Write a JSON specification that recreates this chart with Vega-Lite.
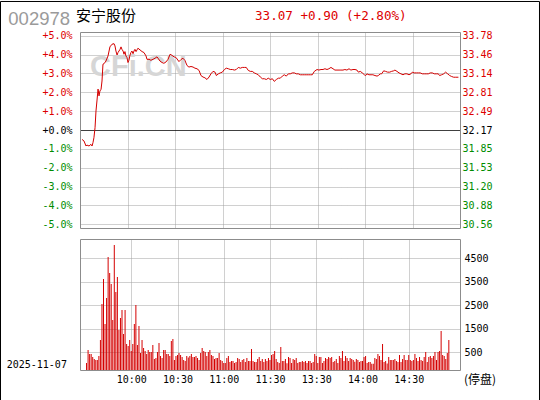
{
  "$schema": "https://vega.github.io/schema/vega-lite/v6.json",
  "autosize": {"type": "pad"},
  "padding": 0,
  "background": "#ffffff",
  "spacing": 11,
  "bounds": "flush",
  "config": {
    "view": {"stroke": null},
    "axis": {"labelFont": "DejaVu Sans Mono", "labelFontSize": 10, "labelColor": "#000000", "labelOverlap": false, "labelFlush": false, "ticks": false, "tickSize": 0, "domainColor": "#8c8c8c", "domainWidth": 1, "title": null}
  },
  "datasets": {
    "price": [
      {"m":1.3,"p":-0.50},{"m":2.5,"p":-0.58},{"m":3.8,"p":-0.85},{"m":4.4,"p":-0.80},{"m":5.7,"p":-0.85},{"m":6.9,"p":-0.76},{"m":7.6,"p":-0.85},{"m":8.2,"p":-0.67},{"m":8.8,"p":-0.41},{"m":9.5,"p":0.12},
      {"m":10.1,"p":1.01},{"m":10.7,"p":1.54},{"m":11.4,"p":2.17},{"m":12,"p":1.81},{"m":12.6,"p":2.07},{"m":13.3,"p":2.16},{"m":13.9,"p":2.6},{"m":14.5,"p":3.49},{"m":15.2,"p":3.52},{"m":16.4,"p":3.66},
      {"m":17.7,"p":3.93},{"m":18.9,"p":4.41},{"m":20.2,"p":4.55},{"m":21.5,"p":4.58},{"m":22.1,"p":4.46},{"m":22.7,"p":4.19},{"m":23.4,"p":3.98},{"m":24,"p":4.11},{"m":25.3,"p":4.28},{"m":25.9,"p":4.41},
      {"m":26.5,"p":4.28},{"m":27.2,"p":4.19},{"m":27.8,"p":4.02},{"m":28.4,"p":4.16},{"m":29,"p":3.93},{"m":29.7,"p":3.84},{"m":30.3,"p":3.58},{"m":30.9,"p":3.70},{"m":31.6,"p":3.98},{"m":32.2,"p":4.11},
      {"m":32.8,"p":4.19},{"m":33.5,"p":4.05},{"m":34.1,"p":4.19},{"m":34.7,"p":4.28},{"m":35.4,"p":4.16},{"m":36,"p":4.25},{"m":36.6,"p":4.34},{"m":37.9,"p":4.25},{"m":39.2,"p":4.16},{"m":40.4,"p":4.11},
      {"m":41.7,"p":3.93},{"m":42.3,"p":3.75},{"m":43.6,"p":3.75},{"m":44.8,"p":3.70},{"m":46.1,"p":3.75},{"m":47.4,"p":3.81},{"m":48.6,"p":3.88},{"m":49.3,"p":3.81},{"m":50.5,"p":3.66},{"m":51.8,"p":3.58},
      {"m":53,"p":3.54},{"m":54.3,"p":3.61},{"m":55.6,"p":3.75},{"m":56.9,"p":4.02},{"m":58.1,"p":3.96},{"m":59.4,"p":3.88},{"m":60.6,"p":3.85},{"m":62.5,"p":3.63},{"m":63.8,"p":3.74},{"m":65,"p":3.81},
      {"m":66.3,"p":3.69},{"m":66.9,"p":3.56},{"m":67.6,"p":3.42},{"m":68.8,"p":3.34},{"m":70.1,"p":3.37},{"m":71.4,"p":3.34},{"m":72.6,"p":3.28},{"m":73.9,"p":3.25},{"m":75.2,"p":3.16},{"m":76.4,"p":2.89},
      {"m":77.7,"p":2.81},{"m":78.9,"p":2.77},{"m":80.2,"p":2.68},{"m":81.5,"p":2.81},{"m":82.7,"p":2.98},{"m":84,"p":3.11},{"m":85.3,"p":3.07},{"m":86.1,"p":2.89},{"m":87.4,"p":2.98},{"m":88.6,"p":3.03},
      {"m":89.9,"p":3.07},{"m":91.2,"p":3.21},{"m":92.4,"p":3.28},{"m":93.7,"p":3.25},{"m":94.9,"p":3.21},{"m":96.2,"p":3.21},{"m":97.5,"p":3.18},{"m":98.7,"p":3.21},{"m":100,"p":3.32},{"m":101.3,"p":3.28},
      {"m":102.5,"p":3.32},{"m":103.8,"p":3.32},{"m":105,"p":3.32},{"m":106.3,"p":3.16},{"m":107.6,"p":3.11},{"m":108.8,"p":3.11},{"m":110.1,"p":3.03},{"m":111.4,"p":2.98},{"m":112.6,"p":2.93},{"m":113.9,"p":2.81},
      {"m":115.2,"p":2.72},{"m":116.4,"p":2.72},{"m":117.7,"p":2.68},{"m":118.9,"p":2.75},{"m":120.2,"p":2.68},{"m":121.5,"p":2.72},{"m":122.7,"p":2.58},{"m":124,"p":2.68},{"m":125.3,"p":2.75},{"m":126.5,"p":2.75},
      {"m":127.8,"p":2.86},{"m":129,"p":2.93},{"m":130.3,"p":2.86},{"m":131.6,"p":2.98},{"m":132.8,"p":2.98},{"m":134.1,"p":3.03},{"m":135.4,"p":3.03},{"m":136.6,"p":2.98},{"m":137.9,"p":2.98},{"m":139.2,"p":2.93},
      {"m":140.4,"p":2.93},{"m":141.7,"p":2.93},{"m":142.9,"p":2.93},{"m":144.2,"p":2.93},{"m":145.5,"p":2.93},{"m":146.7,"p":2.93},{"m":148,"p":3.11},{"m":149.7,"p":3.21},{"m":150.9,"p":3.18},{"m":152.2,"p":3.21},
      {"m":153.5,"p":3.21},{"m":154.7,"p":3.25},{"m":156,"p":3.21},{"m":157.2,"p":3.25},{"m":158.5,"p":3.32},{"m":159.8,"p":3.25},{"m":161,"p":3.18},{"m":162.3,"p":3.18},{"m":163.6,"p":3.18},{"m":164.8,"p":3.18},
      {"m":166.1,"p":3.18},{"m":167.3,"p":3.21},{"m":168.6,"p":3.18},{"m":169.9,"p":3.25},{"m":171.1,"p":3.18},{"m":172.4,"p":3.21},{"m":173.7,"p":3.21},{"m":174.9,"p":3.18},{"m":175.8,"p":3.07},{"m":177,"p":3.11},
      {"m":178.3,"p":3.03},{"m":179.6,"p":2.93},{"m":180.4,"p":2.89},{"m":181.2,"p":2.98},{"m":182.5,"p":2.93},{"m":183.8,"p":2.93},{"m":185,"p":2.93},{"m":186.3,"p":2.89},{"m":187.6,"p":2.86},{"m":188.4,"p":2.89},
      {"m":189.7,"p":2.98},{"m":190.5,"p":2.98},{"m":191.8,"p":3.14},{"m":193,"p":3.11},{"m":194.3,"p":3.07},{"m":195.6,"p":3.07},{"m":196.8,"p":3.11},{"m":198.1,"p":3.14},{"m":198.9,"p":3.18},{"m":200.2,"p":3.11},
      {"m":201.5,"p":3.03},{"m":202.7,"p":2.98},{"m":204,"p":2.93},{"m":205.2,"p":2.98},{"m":206.5,"p":2.98},{"m":207.8,"p":2.93},{"m":209,"p":2.98},{"m":209.9,"p":3.07},{"m":211.1,"p":3.03},{"m":212.4,"p":3.03},
      {"m":213.7,"p":3.03},{"m":214.9,"p":3.03},{"m":216.2,"p":2.98},{"m":217.5,"p":2.98},{"m":218.7,"p":2.98},{"m":220,"p":2.98},{"m":221.2,"p":3.03},{"m":222.5,"p":3.03},{"m":223.8,"p":2.98},{"m":225,"p":2.98},
      {"m":226.3,"p":2.98},{"m":227.1,"p":2.89},{"m":228.4,"p":2.93},{"m":229.7,"p":2.98},{"m":230.9,"p":3.07},{"m":232.2,"p":2.98},{"m":233.5,"p":2.89},{"m":234.7,"p":2.84},{"m":236,"p":2.80},{"m":237.3,"p":2.80},{"m":239,"p":2.80}
    ],
    "vol": [
      {"m":1,"v":50},{"m":2,"v":600},{"m":3,"v":430},{"m":4,"v":430},{"m":5,"v":300},{"m":6,"v":220},{"m":7,"v":170},{"m":8,"v":170},{"m":9,"v":340},{"m":10,"v":1025},
      {"m":11,"v":2556},{"m":12,"v":3620},{"m":13,"v":1705},{"m":14,"v":2810},{"m":15,"v":4555},{"m":16,"v":3875},{"m":17,"v":3407},{"m":18,"v":1875},{"m":19,"v":5066},{"m":20,"v":3067},
      {"m":21,"v":3705},{"m":22,"v":1450},{"m":23,"v":1960},{"m":24,"v":2300},{"m":25,"v":1280},{"m":26,"v":2300},{"m":27,"v":855},{"m":28,"v":770},{"m":29,"v":1025},{"m":30,"v":560},
      {"m":31,"v":855},{"m":32,"v":1705},{"m":33,"v":2510},{"m":34,"v":810},{"m":35,"v":1620},{"m":36,"v":470},{"m":37,"v":1025},{"m":38,"v":685},{"m":39,"v":560},{"m":40,"v":430},
      {"m":41,"v":600},{"m":42,"v":515},{"m":43,"v":515},{"m":44,"v":810},{"m":45,"v":220},{"m":46,"v":260},{"m":47,"v":515},{"m":48,"v":900},{"m":49,"v":345},{"m":50,"v":260},
      {"m":51,"v":600},{"m":52,"v":600},{"m":53,"v":430},{"m":54,"v":430},{"m":55,"v":345},{"m":56,"v":980},{"m":57,"v":1070},{"m":58,"v":175},{"m":59,"v":345},{"m":60,"v":385},
      {"m":61,"v":470},{"m":62,"v":385},{"m":63,"v":300},{"m":64,"v":175},{"m":65,"v":130},{"m":66,"v":345},{"m":67,"v":280},{"m":68,"v":345},{"m":69,"v":430},{"m":70,"v":300},
      {"m":71,"v":300},{"m":72,"v":345},{"m":73,"v":260},{"m":74,"v":175},{"m":75,"v":470},{"m":76,"v":685},{"m":77,"v":560},{"m":78,"v":515},{"m":79,"v":345},{"m":80,"v":515},
      {"m":81,"v":600},{"m":82,"v":390},{"m":83,"v":345},{"m":84,"v":215},{"m":85,"v":260},{"m":86,"v":260},{"m":87,"v":470},{"m":88,"v":175},{"m":89,"v":130},{"m":90,"v":45},
      {"m":91,"v":45},{"m":92,"v":260},{"m":93,"v":345},{"m":94,"v":90},{"m":95,"v":130},{"m":96,"v":130},{"m":97,"v":45},{"m":98,"v":90},{"m":99,"v":260},{"m":100,"v":215},
      {"m":101,"v":90},{"m":102,"v":175},{"m":103,"v":215},{"m":104,"v":90},{"m":105,"v":260},{"m":106,"v":130},{"m":107,"v":130},{"m":108,"v":640},{"m":109,"v":130},{"m":110,"v":90},
      {"m":111,"v":90},{"m":112,"v":215},{"m":113,"v":300},{"m":114,"v":130},{"m":115,"v":215},{"m":116,"v":90},{"m":117,"v":215},{"m":118,"v":130},{"m":119,"v":260},{"m":120,"v":175},
      {"m":121,"v":390},{"m":122,"v":430},{"m":123,"v":560},{"m":124,"v":215},{"m":125,"v":90},{"m":126,"v":45},{"m":127,"v":730},{"m":128,"v":130},{"m":129,"v":130},{"m":130,"v":215},
      {"m":131,"v":30},{"m":132,"v":300},{"m":133,"v":260},{"m":134,"v":45},{"m":135,"v":215},{"m":136,"v":175},{"m":137,"v":260},{"m":138,"v":45},{"m":139,"v":90},{"m":140,"v":90},
      {"m":141,"v":130},{"m":142,"v":90},{"m":143,"v":130},{"m":144,"v":45},{"m":145,"v":130},{"m":146,"v":130},{"m":147,"v":45},{"m":148,"v":90},{"m":149,"v":430},{"m":150,"v":345},
      {"m":151,"v":45},{"m":152,"v":300},{"m":153,"v":300},{"m":154,"v":45},{"m":155,"v":130},{"m":156,"v":260},{"m":157,"v":215},{"m":158,"v":300},{"m":159,"v":260},{"m":160,"v":300},
      {"m":161,"v":90},{"m":162,"v":130},{"m":163,"v":215},{"m":164,"v":45},{"m":165,"v":345},{"m":166,"v":260},{"m":167,"v":560},{"m":168,"v":130},{"m":169,"v":345},{"m":170,"v":260},
      {"m":171,"v":130},{"m":172,"v":260},{"m":173,"v":215},{"m":174,"v":175},{"m":175,"v":100},{"m":176,"v":215},{"m":177,"v":175},{"m":178,"v":90},{"m":179,"v":130},{"m":180,"v":130},
      {"m":181,"v":300},{"m":182,"v":345},{"m":183,"v":45},{"m":184,"v":90},{"m":185,"v":90},{"m":186,"v":10},{"m":187,"v":10},{"m":188,"v":260},{"m":189,"v":215},{"m":190,"v":430},
      {"m":191,"v":345},{"m":192,"v":175},{"m":193,"v":855},{"m":194,"v":90},{"m":195,"v":130},{"m":196,"v":20},{"m":197,"v":300},{"m":198,"v":175},{"m":199,"v":175},{"m":200,"v":175},
      {"m":201,"v":215},{"m":202,"v":130},{"m":203,"v":90},{"m":204,"v":390},{"m":205,"v":90},{"m":206,"v":215},{"m":207,"v":390},{"m":208,"v":175},{"m":209,"v":175},{"m":210,"v":390},
      {"m":211,"v":175},{"m":212,"v":130},{"m":213,"v":175},{"m":214,"v":430},{"m":215,"v":260},{"m":216,"v":130},{"m":217,"v":300},{"m":218,"v":175},{"m":219,"v":130},{"m":220,"v":300},
      {"m":221,"v":515},{"m":222,"v":90},{"m":223,"v":300},{"m":224,"v":345},{"m":225,"v":260},{"m":226,"v":345},{"m":227,"v":515},{"m":228,"v":175},{"m":229,"v":515},{"m":230,"v":560},
      {"m":231,"v":1410},{"m":232,"v":390},{"m":233,"v":345},{"m":234,"v":215},{"m":235,"v":470},{"m":236,"v":1025}
    ]
  },
  "vconcat": [
    {
      "width": 380,
      "height": 196,
      "layer": [
        {
          "data": {"values": [{}]},
          "mark": {"type": "text", "text": "CFi.CN", "font": "Liberation Sans", "fontWeight": "bold", "fontSize": 29, "fill": "#d6d6d6", "align": "left", "baseline": "alphabetic"},
          "encoding": {
            "x": {"datum": 6.316, "type": "quantitative", "scale": {"domain": [0, 240], "nice": false, "zero": false}, "axis": {"orient": "top", "domain": true, "labels": false, "ticks": false, "grid": false, "title": null}},
            "y": {"datum": 2.865, "type": "quantitative", "scale": {"domain": [-5.2, 5.2], "nice": false, "zero": false}, "axis": null}
          }
        },
        {
          "data": {"name": "price"},
          "mark": {"type": "line", "color": "#d40000", "strokeWidth": 1},
          "encoding": {
            "x": {"field": "m", "type": "quantitative", "scale": {"domain": [0, 240], "nice": false, "zero": false}, "axis": {"orient": "bottom", "values": [30, 60, 90, 120, 150, 180, 210], "labels": false, "ticks": false, "domain": true, "grid": true, "gridColor": "#a0a0a0", "gridDash": [1, 1], "title": null}},
            "y": {"field": "p", "type": "quantitative", "scale": {"domain": [-5.2, 5.2], "nice": false, "zero": false}, "axis": {"orient": "left", "values": [-5, -4, -3, -2, -1, 0, 1, 2, 3, 4, 5], "labelExpr": "(datum.value >= 0 ? '+' : '-') + format(abs(datum.value), '.1f') + '%'", "labelPadding": 8, "ticks": false, "domain": true, "grid": false, "title": null, "labelColor": {"condition": [{"test": "datum.value > 0", "value": "#dd0000"}, {"test": "datum.value === 0", "value": "#000000"}], "value": "#008c00"}}}
          }
        },
        {
          "data": {"values": [{}]},
          "mark": {"type": "rule", "opacity": 0},
          "encoding": {
            "y": {"datum": 0, "type": "quantitative", "scale": {"domain": [-5.2, 5.2], "nice": false, "zero": false}, "axis": {"orient": "right", "values": [-5, -4, -3, -2, -1, 0, 1, 2, 3, 4, 5], "labelExpr": "format(32.17 * (1 + datum.value / 100), '.2f')", "labelPadding": 2, "ticks": false, "domain": true, "grid": true, "gridColor": {"condition": {"test": "datum.value === 0", "value": "#000000"}, "value": "#a0a0a0"}, "gridDash": {"condition": {"test": "datum.value === 0", "value": [1, 0]}, "value": [1, 1]}, "title": null, "labelColor": {"condition": [{"test": "datum.value > 0", "value": "#dd0000"}, {"test": "datum.value === 0", "value": "#000000"}], "value": "#008c00"}}}
          }
        },
        {
          "data": {"values": [{}]},
          "mark": {"type": "text", "text": "002978", "font": "Liberation Sans", "fontSize": 18.5, "fill": "#9a9a9a", "align": "left", "baseline": "alphabetic"},
          "encoding": {
            "x": {"datum": -45.28, "type": "quantitative", "scale": {"domain": [0, 240], "nice": false, "zero": false}, "axis": null},
            "y": {"datum": 5.571, "type": "quantitative", "scale": {"domain": [-5.2, 5.2], "nice": false, "zero": false}, "axis": null}
          }
        },
        {
          "data": {"values": [{}]},
          "mark": {"type": "text", "text": "安宁股份", "font": "Noto Sans CJK SC", "fontSize": 15, "fill": "#000000", "align": "left", "baseline": "alphabetic"},
          "encoding": {
            "x": {"datum": -2.526, "type": "quantitative", "scale": {"domain": [0, 240], "nice": false, "zero": false}, "axis": null},
            "y": {"datum": 5.784, "type": "quantitative", "scale": {"domain": [-5.2, 5.2], "nice": false, "zero": false}, "axis": null}
          }
        },
        {
          "data": {"values": [{}]},
          "mark": {"type": "text", "text": "33.07 +0.90 (+2.80%)", "font": "DejaVu Sans Mono", "fontSize": 12.6, "fill": "#dd0000", "align": "left", "baseline": "alphabetic"},
          "encoding": {
            "x": {"datum": 110.53, "type": "quantitative", "scale": {"domain": [0, 240], "nice": false, "zero": false}, "axis": null},
            "y": {"datum": 5.821, "type": "quantitative", "scale": {"domain": [-5.2, 5.2], "nice": false, "zero": false}, "axis": null}
          }
        },
        {
          "data": {"values": [{}]},
          "mark": {"type": "rect", "fill": "#ffffff", "fillOpacity": 0, "stroke": "#000000", "strokeWidth": 1},
          "encoding": {
            "x": {"datum": -50.2105, "type": "quantitative", "scale": {"domain": [0, 240], "nice": false, "zero": false}, "axis": null},
            "x2": {"datum": 290.2105},
            "y": {"datum": 6.8184, "type": "quantitative", "scale": {"domain": [-5.2, 5.2], "nice": false, "zero": false}, "axis": null},
            "y2": {"datum": -14.3532}
          }
        }
      ],
      "resolve": {"scale": {"x": "independent", "y": "independent"}}
    },
    {
      "width": 380,
      "height": 131,
      "layer": [
        {
          "data": {"name": "vol"},
          "mark": {"type": "bar", "color": "#d40000", "size": 1},
          "encoding": {
            "x": {"field": "m", "type": "quantitative", "scale": {"domain": [0, 240], "nice": false, "zero": false}, "axis": {"orient": "bottom", "values": [30, 60, 90, 120, 150, 180, 210], "labelExpr": "['10:00','10:30','11:00','11:30','13:30','14:00','14:30'][datum.value / 30 - 1]", "labelPadding": 4, "ticks": false, "domain": true, "grid": true, "gridColor": "#a0a0a0", "gridDash": [1, 1], "title": null}},
            "y": {"field": "v", "type": "quantitative", "scale": {"domain": [-253, 5321], "nice": false, "zero": false}, "axis": {"orient": "right", "values": [500, 1500, 2500, 3500, 4500], "format": "d", "labelPadding": 4, "ticks": false, "domain": true, "grid": true, "gridColor": "#a0a0a0", "gridDash": [1, 1], "title": null}},
            "y2": {"datum": -253}
          }
        },
        {
          "data": {"values": [{}]},
          "mark": {"type": "text", "text": "2025-11-07", "font": "DejaVu Sans Mono", "fontSize": 10, "fill": "#000000", "align": "left", "baseline": "alphabetic"},
          "encoding": {
            "x": {"datum": -46.29, "type": "quantitative", "scale": {"domain": [0, 240], "nice": false, "zero": false}, "axis": null},
            "y": {"datum": -180.7, "type": "quantitative", "scale": {"domain": [-253, 5321], "nice": false, "zero": false}, "axis": {"orient": "left", "domain": true, "labels": false, "ticks": false, "grid": false, "title": null}}
          }
        },
        {
          "data": {"values": [{}]},
          "mark": {"type": "text", "text": "(停盘)", "font": "Noto Sans CJK SC", "fontSize": 12, "fill": "#000000", "align": "left", "baseline": "alphabetic"},
          "encoding": {
            "x": {"datum": 242.53, "type": "quantitative", "scale": {"domain": [0, 240], "nice": false, "zero": false}, "axis": {"orient": "top", "domain": true, "labels": false, "ticks": false, "grid": false, "title": null}},
            "y": {"datum": -848.8, "type": "quantitative", "scale": {"domain": [-253, 5321], "nice": false, "zero": false}, "axis": null}
          }
        }
      ],
      "resolve": {"scale": {"x": "independent", "y": "independent"}}
    }
  ]
}
